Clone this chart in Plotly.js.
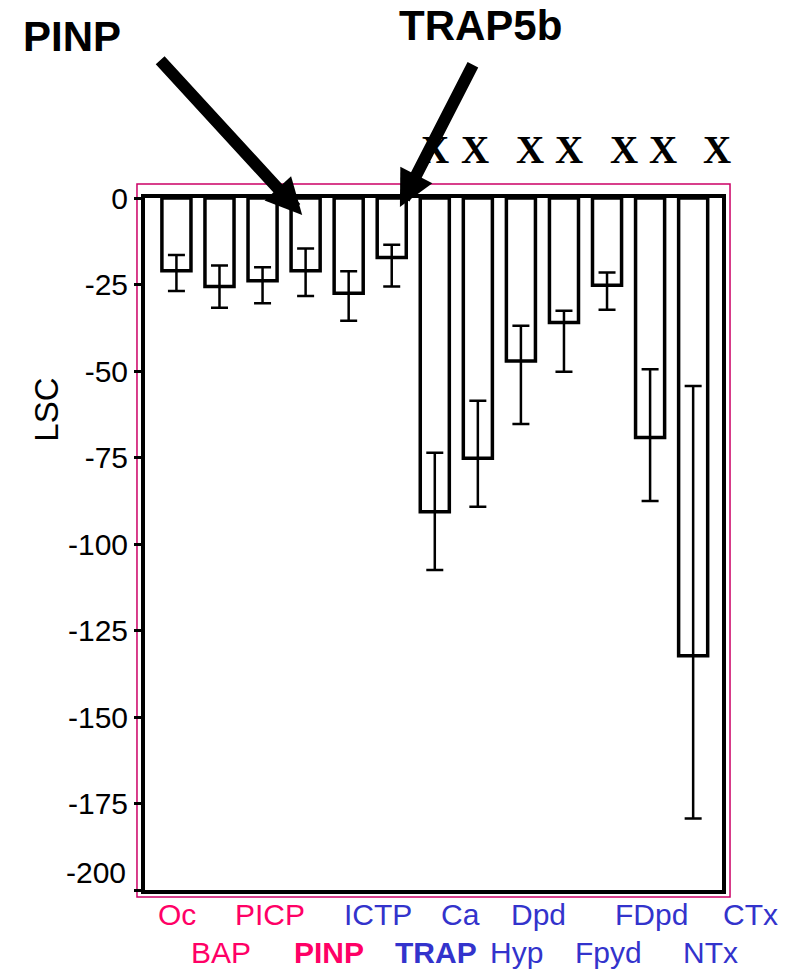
<!DOCTYPE html>
<html>
<head>
<meta charset="utf-8">
<script src="https://cdn.plot.ly/plotly-3.0.1.min.js"></script>
<style>html,body{margin:0;padding:0;background:#fff;}#chart{width:789px;height:970px;}</style>
</head>
<body>
<div id="chart"></div>
<script>
// Data
const categories = ["Oc","BAP","PICP","PINP","ICTP","TRAP","Ca","Hyp","Dpd","Fpyd","FDpd","NTx","CTx"];
const lscValues  = [-21.0,-25.6,-23.9,-21.0,-27.5,-17.2,-90.7,-75.2,-47.1,-36.0,-25.2,-69.2,-132.3];
const errUp      = [4.5,6.1,3.9,6.4,6.3,3.7,17.1,16.6,10.2,3.4,3.7,19.7,78.0];
const errDown    = [5.9,6.1,6.5,7.3,8.0,8.4,16.8,14.0,18.2,14.2,7.1,18.4,47.0];
const labelRow   = [0,1,0,1,0,1,0,1,0,1,0,1,0];
const labelBold  = [false,false,false,true,false,true,false,false,false,false,false,false,false];
const labelGroup = ["formation","formation","formation","formation","resorption","resorption","resorption","resorption","resorption","resorption","resorption","resorption","resorption"];
const significant = ["Ca","Hyp","Dpd","Fpyd","FDpd","NTx","CTx"];
const yTicks = [0,-25,-50,-75,-100,-125,-150,-175,-200];

const idx = categories.map((c,i)=>i);
const labelShift = [1,2,7,23,29,44,26,39,18,45,44,60,57];
const xMarkShift = [0,-3,9,5,17,13,24];
const groupColor = {formation:"#ff0066", resorption:"#3333cc"};
const SANS = "Liberation Sans, Arial, sans-serif";
const yMin = yTicks[yTicks.length - 1];

const trace = {
  type: "bar",
  x: idx,
  y: lscValues,
  width: 0.675,
  marker: {color: "#ffffff", line: {color: "#000000", width: 3.5}},
  error_y: {type: "data", symmetric: false, array: errUp, arrayminus: errDown,
            color: "#000000", thickness: 2.5, width: 8.5},
  hoverinfo: "skip"
};

const annotations = [];
categories.forEach((c,i)=>{
  annotations.push({
    xref: "x", yref: "paper", x: i, y: labelRow[i] === 0 ? -0.0347 : -0.0903,
    xshift: labelShift[i], xanchor: "center", yanchor: "middle", showarrow: false,
    text: labelBold[i] ? "<b>" + c + "</b>" : c,
    font: {family: SANS, size: 30, color: groupColor[labelGroup[i]]}
  });
});
significant.forEach((c,k)=>{
  annotations.push({
    xref: "x", yref: "paper", x: categories.indexOf(c), y: 1.0694, xshift: xMarkShift[k],
    xanchor: "center", yanchor: "middle", showarrow: false, text: "<b>X</b>",
    font: {family: "Liberation Serif, Times New Roman, serif", size: 39, color: "#000"}
  });
});
// bottom tick label sits slightly above its tick in the reference
annotations.push({xref:"paper", yref:"y", x:0, y:yMin, xanchor:"right", yanchor:"middle", xshift:-17, yshift:18,
  showarrow:false, text:String(yMin), font:{family:SANS, size:30, color:"#000"}});
// y title
annotations.push({xref:"paper", yref:"paper", x:-0.17, y:0.694, xanchor:"center", yanchor:"middle",
  showarrow:false, textangle:-90,
  text:"LSC", font:{family:SANS, size:33, color:"#000"}});
// callout texts
annotations.push({xref:"paper", yref:"paper", x:-0.1265, y:1.2327, xanchor:"center", yanchor:"middle",
  showarrow:false, text:"<b>PINP</b>", font:{family:SANS, size:42, color:"#000"}});
annotations.push({xref:"paper", yref:"paper", x:0.5823, y:1.2486, xanchor:"center", yanchor:"middle",
  showarrow:false, text:"<b>TRAP5b</b>", font:{family:SANS, size:42, color:"#000"}});
// arrows
annotations.push({xref:"x", yref:"y", x: categories.indexOf("PINP") - 0.08, y: -4.9, text:" ", showarrow:true,
  ax:-145, ay:-158, arrowhead:2, arrowwidth:12, arrowsize:0.6, arrowcolor:"#000", standoff:0});
annotations.push({xref:"x", yref:"y", x: categories.indexOf("TRAP") + 0.19, y: -2.6, text:" ", showarrow:true,
  ax:76, ay:-148, arrowhead:2, arrowwidth:12, arrowsize:0.6, arrowcolor:"#000", standoff:0});

const layout = {
  width: 789, height: 970,
  margin: {l: 145, r: 67, t: 198, b: 80},
  paper_bgcolor: "#ffffff", plot_bgcolor: "#ffffff",
  showlegend: false,
  xaxis: {range: [-0.73, 12.67], showticklabels: false, ticks: "", showgrid: false, zeroline: false,
          showline: true, mirror: true, linecolor: "#000", linewidth: 4},
  yaxis: {range: [-200, 0], tickvals: yTicks, ticktext: yTicks.map(v => v === yMin ? "" : String(v)),
          ticks: "outside", ticklen: 7, tickwidth: 3,
          tickcolor: "#000", showgrid: false, zeroline: false, showline: true, mirror: true,
          linecolor: "#000", linewidth: 4,
          tickfont: {family: SANS, size: 30, color: "#000"}},
  shapes: [{type: "rect", xref: "paper", yref: "paper", x0: -0.0139, x1: 1.0139, y0: -0.0101, y1: 1.0202,
            line: {color: "#cc0066", width: 1.5}, fillcolor: "rgba(0,0,0,0)", layer: "below"}],
  annotations: annotations
};

Plotly.newPlot("chart", [trace], layout, {displayModeBar: false, staticPlot: true});
</script>
</body>
</html>
